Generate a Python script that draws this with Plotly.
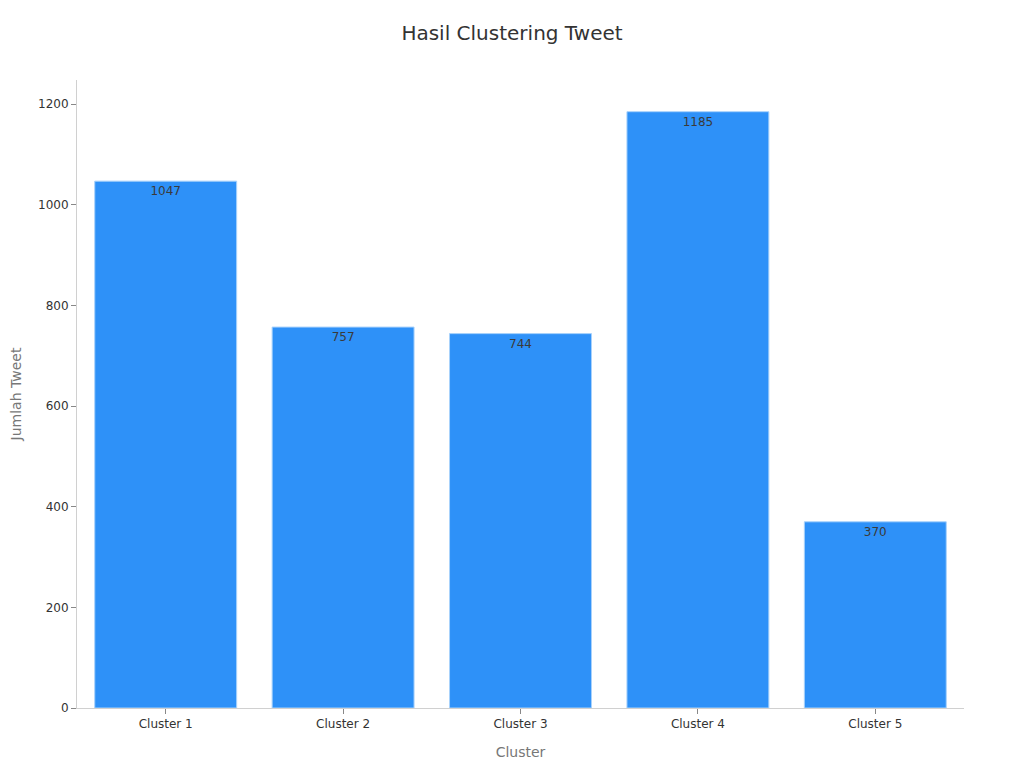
import plotly.graph_objects as go

# --- Data ---
clusters = ["Cluster 1", "Cluster 2", "Cluster 3", "Cluster 4", "Cluster 5"]
jumlah_tweet = [1047, 757, 744, 1185, 370]

fig = go.Figure(go.Bar(
    x=clusters,
    y=jumlah_tweet,
    text=jumlah_tweet,
    textposition="inside",
    insidetextanchor="end",
    textfont=dict(color="#3a3a3a", size=12),
    marker=dict(color="#2E91F8", line=dict(color="#A9D2FB", width=1)),
))

fig.update_layout(
    width=1024,
    height=768,
    title=dict(text="Hasil Clustering Tweet", x=504 / 1024, xanchor="center",
               y=1 - 25 / 768, yanchor="middle",
               font=dict(size=20, color="#333333")),
    font=dict(family="DejaVu Sans", size=12, color="#333333"),
    paper_bgcolor="white",
    plot_bgcolor="white",
    margin=dict(l=69, r=68, t=72, b=68),
    bargap=0.2,
    showlegend=False,
)
fig.update_xaxes(
    title=dict(text="Cluster", font=dict(size=14, color="#777777"), standoff=16),
    showline=True, linecolor="#D0D0D0", linewidth=1,
    ticks="outside", ticklen=5, tickcolor="#888888",
    tickfont=dict(size=12),
    showgrid=False,
)
fig.update_yaxes(
    title=dict(text="Jumlah Tweet", font=dict(size=14, color="#777777"), standoff=17),
    automargin=False,
    range=[0, 1248],
    tickvals=[0, 200, 400, 600, 800, 1000, 1200],
    showline=True, linecolor="#D0D0D0", linewidth=1,
    ticks="outside", ticklen=5, tickcolor="#888888",
    tickfont=dict(size=12),
    showgrid=False, zeroline=False,
)

fig.write_html("out.html")
